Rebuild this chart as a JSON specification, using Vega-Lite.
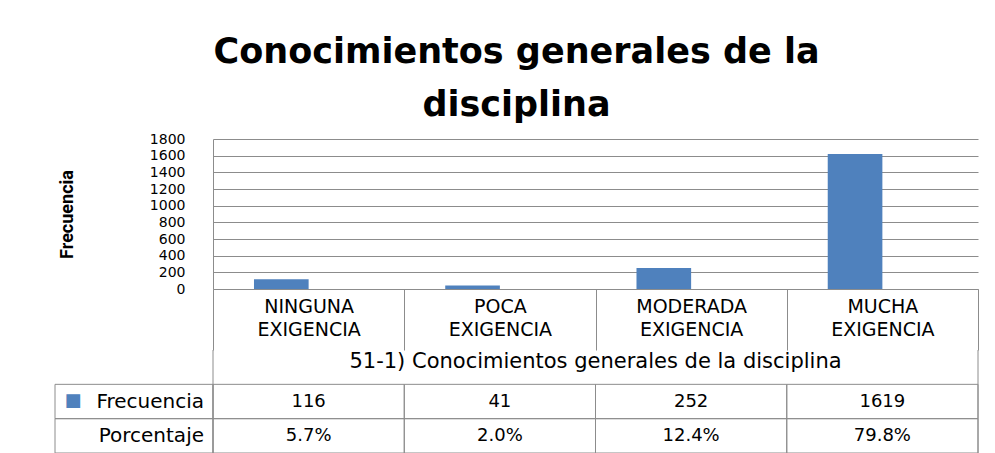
{
  "$schema": "https://vega.github.io/schema/vega-lite/v6.json",
  "padding": {"left": 54, "top": 35, "right": 18, "bottom": 0},
  "autosize": {"type": "pad"},
  "background": "white",
  "title": {
    "text": ["Conocimientos generales de la", "disciplina"],
    "font": "DejaVu Sans",
    "fontSize": 35,
    "fontWeight": "bold",
    "lineHeight": 53,
    "color": "#000000",
    "anchor": "middle",
    "offset": 9
  },
  "config": {"view": {"stroke": null}, "font": "DejaVu Sans"},
  "datasets": {
    "frecuencias": [
      {"categoria": "NINGUNA EXIGENCIA", "serie": "Frecuencia", "valor": 116},
      {"categoria": "POCA EXIGENCIA", "serie": "Frecuencia", "valor": 41},
      {"categoria": "MODERADA EXIGENCIA", "serie": "Frecuencia", "valor": 252},
      {"categoria": "MUCHA EXIGENCIA", "serie": "Frecuencia", "valor": 1619}
    ],
    "tabla": [
      {"categoria": "NINGUNA EXIGENCIA", "fila": "Frecuencia", "texto": "116"},
      {"categoria": "POCA EXIGENCIA", "fila": "Frecuencia", "texto": "41"},
      {"categoria": "MODERADA EXIGENCIA", "fila": "Frecuencia", "texto": "252"},
      {"categoria": "MUCHA EXIGENCIA", "fila": "Frecuencia", "texto": "1619"},
      {"categoria": "NINGUNA EXIGENCIA", "fila": "Porcentaje", "texto": "5.7%"},
      {"categoria": "POCA EXIGENCIA", "fila": "Porcentaje", "texto": "2.0%"},
      {"categoria": "MODERADA EXIGENCIA", "fila": "Porcentaje", "texto": "12.4%"},
      {"categoria": "MUCHA EXIGENCIA", "fila": "Porcentaje", "texto": "79.8%"}
    ]
  },
  "columns": 2,
  "align": "each",
  "bounds": "flush",
  "spacing": {"row": 61, "column": 0},
  "concat": [
    {
      "width": 158,
      "height": 150,
      "data": {"values": [{}]},
      "mark": {"type": "text", "text": ""}
    },
    {
      "width": 765,
      "height": 150,
      "data": {"name": "frecuencias"},
      "mark": {"type": "bar", "color": "#4F81BD"},
      "encoding": {
        "x": {
          "field": "categoria",
          "type": "nominal",
          "sort": ["NINGUNA EXIGENCIA", "POCA EXIGENCIA", "MODERADA EXIGENCIA", "MUCHA EXIGENCIA"],
          "scale": {"type": "band", "paddingInner": 0, "paddingOuter": 0},
          "axis": {
            "title": null,
            "domain": true,
            "domainColor": "#8c8c8c",
            "ticks": true,
            "tickBand": "extent",
            "tickSize": 61,
            "tickColor": "#8c8c8c",
            "grid": false,
            "labelAngle": 0,
            "labelExpr": "split(datum.label, ' ')",
            "labelFont": "DejaVu Sans",
            "labelFontSize": 19,
            "labelLineHeight": 23,
            "labelBaseline": "top",
            "labelPadding": -53,
            "labelColor": "#000000"
          }
        },
        "xOffset": {
          "field": "serie",
          "scale": {"domain": ["Frecuencia", "Porcentaje"], "paddingInner": 0, "paddingOuter": 0.75}
        },
        "y": {
          "field": "valor",
          "type": "quantitative",
          "scale": {"domain": [0, 1800], "nice": false},
          "axis": {
            "values": [0, 200, 400, 600, 800, 1000, 1200, 1400, 1600, 1800],
            "format": "d",
            "title": "Frecuencia",
            "titleFont": "Roboto",
            "titleFontSize": 18,
            "titleFontWeight": "bold",
            "titleColor": "#000000",
            "titlePadding": 73,
            "labelFont": "DejaVu Sans",
            "labelFontSize": 14,
            "labelPadding": 28,
            "labelColor": "#000000",
            "labelOverlap": false,
            "ticks": false,
            "domain": true,
            "domainColor": "#8c8c8c",
            "grid": true,
            "gridColor": "#8c8c8c"
          }
        }
      }
    },
    {
      "width": 158,
      "height": 103,
      "data": {"values": [{"fila": "Frecuencia"}, {"fila": "Porcentaje"}]},
      "layer": [
        {
          "mark": {"type": "rect", "fill": "transparent", "stroke": "#8c8c8c", "strokeWidth": 1},
          "encoding": {
            "y": {"field": "fila", "type": "nominal", "scale": {"type": "band", "domain": ["grupo", "Frecuencia", "Porcentaje"], "paddingInner": 0, "paddingOuter": 0}, "axis": null}
          }
        },
        {
          "mark": {"type": "text", "align": "right", "dx": 70, "fontSize": 20, "color": "#000000"},
          "encoding": {
            "y": {"field": "fila", "type": "nominal", "scale": {"type": "band", "domain": ["grupo", "Frecuencia", "Porcentaje"], "paddingInner": 0, "paddingOuter": 0}, "axis": null},
            "text": {"field": "fila"}
          }
        },
        {
          "transform": [{"filter": "datum.fila === 'Frecuencia'"}],
          "mark": {"type": "text", "text": "■", "color": "#4F81BD", "fontSize": 18, "dx": -61, "dy": -1},
          "encoding": {
            "y": {"field": "fila", "type": "nominal", "scale": {"type": "band", "domain": ["grupo", "Frecuencia", "Porcentaje"], "paddingInner": 0, "paddingOuter": 0}, "axis": null}
          }
        }
      ]
    },
    {
      "width": 765,
      "height": 103,
      "layer": [
        {
          "data": {"name": "tabla"},
          "mark": {"type": "rect", "fill": "transparent", "stroke": "#8c8c8c", "strokeWidth": 1},
          "encoding": {
            "x": {"field": "categoria", "type": "nominal", "scale": {"type": "band", "domain": ["NINGUNA EXIGENCIA", "POCA EXIGENCIA", "MODERADA EXIGENCIA", "MUCHA EXIGENCIA"], "paddingInner": 0, "paddingOuter": 0}, "axis": null},
            "y": {"field": "fila", "type": "nominal", "scale": {"type": "band", "domain": ["grupo", "Frecuencia", "Porcentaje"], "paddingInner": 0, "paddingOuter": 0}, "axis": null}
          }
        },
        {
          "data": {"name": "tabla"},
          "mark": {"type": "text", "fontSize": 18, "color": "#000000"},
          "encoding": {
            "x": {"field": "categoria", "type": "nominal", "scale": {"type": "band", "domain": ["NINGUNA EXIGENCIA", "POCA EXIGENCIA", "MODERADA EXIGENCIA", "MUCHA EXIGENCIA"], "paddingInner": 0, "paddingOuter": 0}, "axis": null},
            "y": {"field": "fila", "type": "nominal", "scale": {"type": "band", "domain": ["grupo", "Frecuencia", "Porcentaje"], "paddingInner": 0, "paddingOuter": 0}, "axis": null},
            "text": {"field": "texto"}
          }
        },
        {
          "data": {"values": [{"fila": "grupo", "texto": "51-1) Conocimientos generales de la disciplina"}]},
          "mark": {"type": "text", "fontSize": 21, "color": "#000000", "dy": -5},
          "encoding": {
            "y": {"field": "fila", "type": "nominal", "scale": {"type": "band", "domain": ["grupo", "Frecuencia", "Porcentaje"], "paddingInner": 0, "paddingOuter": 0}, "axis": null},
            "text": {"field": "texto"}
          }
        },
        {
          "data": {"values": [{}]},
          "mark": {"type": "rule", "color": "#8c8c8c"},
          "encoding": {
            "x": {"datum": "NINGUNA EXIGENCIA", "type": "nominal", "bandPosition": 0, "scale": {"type": "band", "domain": ["NINGUNA EXIGENCIA", "POCA EXIGENCIA", "MODERADA EXIGENCIA", "MUCHA EXIGENCIA"], "paddingInner": 0, "paddingOuter": 0}, "axis": null}
          }
        },
        {
          "data": {"values": [{}]},
          "mark": {"type": "rule", "color": "#8c8c8c"},
          "encoding": {
            "x": {"datum": "MUCHA EXIGENCIA", "type": "nominal", "bandPosition": 1, "scale": {"type": "band", "domain": ["NINGUNA EXIGENCIA", "POCA EXIGENCIA", "MODERADA EXIGENCIA", "MUCHA EXIGENCIA"], "paddingInner": 0, "paddingOuter": 0}, "axis": null}
          }
        }
      ]
    }
  ]
}
